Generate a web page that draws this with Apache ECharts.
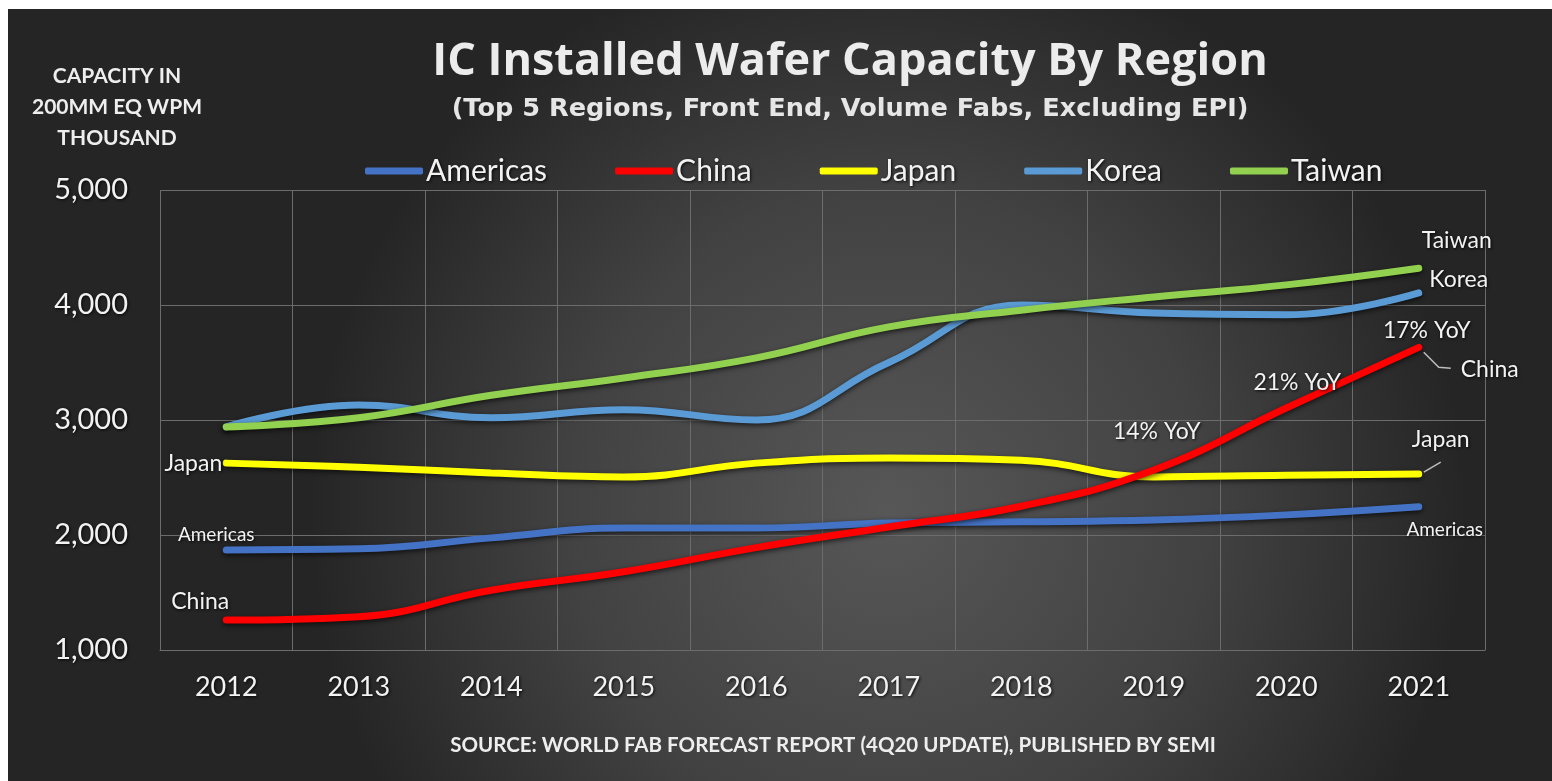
<!DOCTYPE html>
<html>
<head>
<meta charset="utf-8">
<title>IC Installed Wafer Capacity By Region</title>
<script src="https://cdn.jsdelivr.net/npm/echarts@6/dist/echarts.min.js"></script>
<style>
  html, body { margin: 0; padding: 0; background: #ffffff; }
  #chart { position: absolute; left: 8px; top: 9px; width: 1544px; height: 772px; }
</style>
</head>
<body>
<div id="chart"></div>
<script>
// Installed capacity, 200mm-equivalent wafers per month (thousands)
const years = ['2012', '2013', '2014', '2015', '2016', '2017', '2018', '2019', '2020', '2021'];
const americas = [1870, 1880, 1975, 2060, 2060, 2105, 2115, 2130, 2175, 2245];
const china    = [1260, 1290, 1520, 1680, 1890, 2070, 2250, 2565, 3104, 3632];
const japan    = [2625, 2590, 2540, 2505, 2625, 2670, 2650, 2505, 2520, 2530];
const korea    = [2940, 3130, 3020, 3090, 3000, 3500, 4000, 3930, 3915, 4105];
const taiwan   = [2940, 3020, 3215, 3365, 3540, 3810, 3955, 4070, 4175, 4320];
const yTicks   = [1000, 2000, 3000, 4000, 5000];

const regions = ['Americas', 'China', 'Japan', 'Korea', 'Taiwan'];
const colors  = ['#4472C4', '#FF0000', '#FFFF00', '#5B9BD5', '#92D050'];

const TEXT = '#f2f2f2';
const SHADOW = { textShadowColor: 'rgba(0,0,0,0.85)', textShadowBlur: 3, textShadowOffsetX: 1, textShadowOffsetY: 1 };
const GSHADOW = { shadowColor: 'rgba(0,0,0,0.8)', shadowBlur: 3, shadowOffsetX: 1, shadowOffsetY: 1 };

// growth versus the previous year, as a rounded percentage
function yoy(values, i) {
  return Math.round((values[i] / values[i - 1] - 1) * 100) + '% YoY';
}

function lbl(text, dx, dy, align, size) {
  return Object.assign({
    show: true,
    formatter: text,
    position: [dx, dy],
    align: align || 'center',
    verticalAlign: 'middle',
    color: TEXT,
    fontFamily: 'Lato',
    fontSize: size || 23
  }, SHADOW);
}

// in-chart annotations: [point index, text, dx, dy, align, size]
const notes = {
  Americas: [[0, 'Americas', -10, -15, 'center', 19], [9, 'Americas', 26, 23, 'center', 19]],
  China:    [[0, 'China', -26, -19], [7, yoy(china, 7), 3, -38], [8, yoy(china, 8), 11, -25],
             [9, yoy(china, 9), 8, -17]],
  Japan:    [[0, 'Japan', -4, 0, 'right'], [9, 'Japan', 22, -34]],
  Korea:    [[9, 'Korea', 40, -13]],
  Taiwan:   [[9, 'Taiwan', 38, -28]]
};
// a second label beside the last China point
const chinaEndName = ['China', 71, 22];

function buildData(name, values) {
  const list = notes[name] || [];
  return values.map((v, i) => {
    const n = list.find(e => e[0] === i);
    if (!n) return v;
    return { value: v, label: lbl(n[1], n[2], n[3], n[4], n[5]) };
  });
}

const seriesValues = [americas, china, japan, korea, taiwan];

const series = regions.map((name, k) => ({
  name: name,
  type: 'line',
  data: buildData(name, seriesValues[k]),
  smooth: 0.45,
  showSymbol: true,
  symbol: 'circle',
  symbolSize: 0,
  lineStyle: {
    width: 7,
    color: colors[k],
    cap: 'round',
    shadowColor: 'rgba(0,0,0,0.65)',
    shadowBlur: 5,
    shadowOffsetY: 2
  },
  itemStyle: { color: colors[k] },
  label: { show: false },
  emphasis: { disabled: true },
  z: name === 'China' ? 5 : 3
}));

// "China" tag on the final China point, with its own guide line
series.push({
  name: 'China',
  type: 'line',
  data: china.map((v, i) => i === china.length - 1
    ? { value: v, label: lbl(chinaEndName[0], chinaEndName[1], chinaEndName[2]) }
    : v),
  showSymbol: true,
  symbolSize: 0,
  lineStyle: { opacity: 0 },
  itemStyle: { color: colors[1] },
  emphasis: { disabled: true },
  legendHoverLink: false,
  silent: true,
  z: 1
});

const chart = echarts.init(document.getElementById('chart'), null, { renderer: 'canvas' });

const option = {
  animation: false,
  backgroundColor: {
    type: 'radial', x: 0.57, y: 0.65, r: 0.75,
    colorStops: [
      { offset: 0, color: '#575757' },
      { offset: 0.55, color: '#424242' },
      { offset: 1, color: '#252525' }
    ]
  },
  grid: { left: 152, top: 181, width: 1325, height: 460, containLabel: false },
  legend: {
    data: regions,
    left: 352,
    top: 142,
    itemWidth: 58,
    itemHeight: 7,
    itemGap: 68,
    icon: 'roundRect',
    textStyle: Object.assign({ color: TEXT, fontFamily: 'Lato', fontSize: 30, padding: [0, 0, 0, -2] }, SHADOW),
    selectedMode: false
  },
  xAxis: {
    type: 'category',
    data: years,
    boundaryGap: true,
    axisLine: { show: true, lineStyle: { color: '#6c6c6c', width: 1 } },
    axisTick: { show: false },
    splitLine: { show: true, lineStyle: { color: '#6c6c6c', width: 1 } },
    axisLabel: Object.assign({ color: TEXT, fontFamily: 'Lato', fontSize: 27, margin: 24, interval: 0 }, SHADOW)
  },
  yAxis: {
    type: 'value',
    min: yTicks[0],
    max: yTicks[yTicks.length - 1],
    interval: 1000,
    axisLine: { show: false },
    axisTick: { show: false },
    splitLine: { show: true, lineStyle: { color: '#6c6c6c', width: 1 } },
    axisLabel: Object.assign({
      color: TEXT, fontFamily: 'Lato', fontSize: 29, margin: 32,
      formatter: v => v.toLocaleString('en-US')
    }, SHADOW)
  },
  series: series,
  graphic: [
    {
      type: 'text', x: 842, y: 53,
      style: Object.assign({
        text: 'IC Installed Wafer Capacity By Region',
        font: 'bold 45px "Open Sans"', fill: '#ececec',
        textAlign: 'center', textVerticalAlign: 'middle'
      }, GSHADOW)
    },
    {
      type: 'text', x: 842, y: 100,
      style: Object.assign({
        text: '(Top 5 Regions, Front End, Volume Fabs, Excluding EPI)',
        font: 'bold 25.6px "DejaVu Sans"', fill: '#e6e6e6',
        textAlign: 'center', textVerticalAlign: 'middle'
      }, GSHADOW)
    },
    {
      type: 'text', x: 109, y: 98,
      style: Object.assign({
        text: 'CAPACITY IN\n200MM EQ WPM\nTHOUSAND',
        font: 'bold 21px Lato', lineHeight: 31, fill: '#eeeeee',
        textAlign: 'center', textVerticalAlign: 'middle'
      }, GSHADOW)
    },
    {
      type: 'text', x: 825, y: 736,
      style: Object.assign({
        text: 'SOURCE: WORLD FAB FORECAST REPORT (4Q20 UPDATE), PUBLISHED BY SEMI',
        font: 'bold 20.5px Lato', fill: '#eeeeee',
        textAlign: 'center', textVerticalAlign: 'middle'
      }, GSHADOW)
    }
  ]
};

chart.setOption(option);

// guide lines from the last China and Japan points to their tags
const last = years.length - 1;
const pC = chart.convertToPixel({ seriesIndex: 1 }, [last, china[last]]);
const pJ = chart.convertToPixel({ seriesIndex: 2 }, [last, japan[last]]);
const guide = { stroke: '#bdbdbd', lineWidth: 1.5, fill: null };
chart.setOption({
  graphic: option.graphic.concat([
    { type: 'polyline', shape: { points: [[pC[0] + 5, pC[1] + 5], [pC[0] + 20, pC[1] + 20], [pC[0] + 32, pC[1] + 21]] }, style: guide, z: 10 },
    { type: 'polyline', shape: { points: [[pJ[0] + 5, pJ[1] - 2], [pJ[0] + 22, pJ[1] - 12]] }, style: guide, z: 10 }
  ])
});
</script>
</body>
</html>
